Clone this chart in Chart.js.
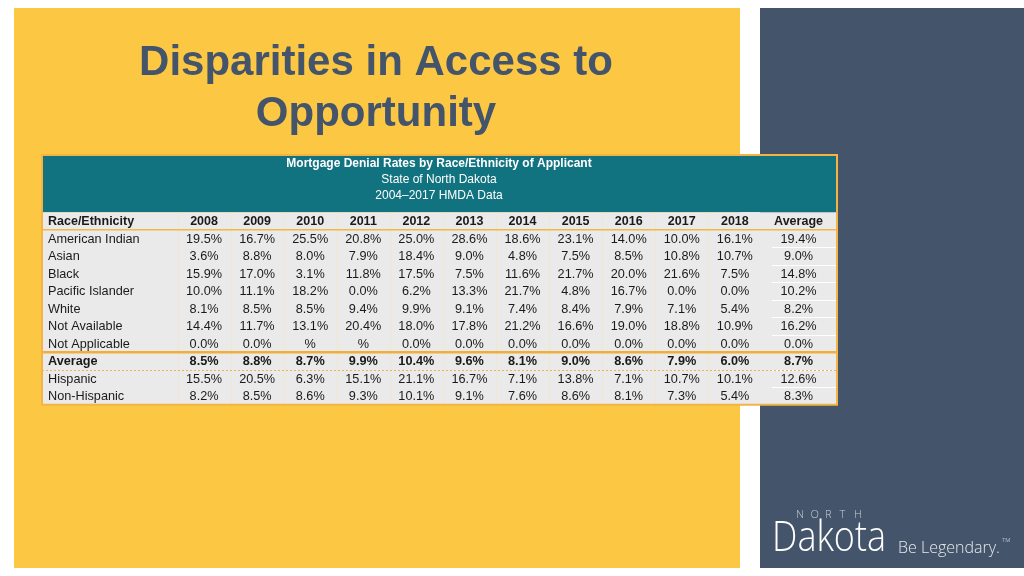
<!DOCTYPE html>
<html><head><meta charset="utf-8">
<script src="https://cdn.jsdelivr.net/npm/chart.js@4"></script>
<style>html,body{margin:0;padding:0;background:#fff;}canvas{display:block;}</style>
</head><body>
<canvas id="c" width="1024" height="576"></canvas>
<script>
const years = ['2008','2009','2010','2011','2012','2013','2014','2015','2016','2017','2018'];
const rowLabels = ['American Indian','Asian','Black','Pacific Islander','White','Not Available','Not Applicable','Average','Hispanic','Non-Hispanic'];
const americanIndian = [19.5,16.7,25.5,20.8,25.0,28.6,18.6,23.1,14.0,10.0,16.1];
const asian = [3.6,8.8,8.0,7.9,18.4,9.0,4.8,7.5,8.5,10.8,10.7];
const black = [15.9,17.0,3.1,11.8,17.5,7.5,11.6,21.7,20.0,21.6,7.5];
const pacificIslander = [10.0,11.1,18.2,0.0,6.2,13.3,21.7,4.8,16.7,0.0,0.0];
const white = [8.1,8.5,8.5,9.4,9.9,9.1,7.4,8.4,7.9,7.1,5.4];
const notAvailable = [14.4,11.7,13.1,20.4,18.0,17.8,21.2,16.6,19.0,18.8,10.9];
const notApplicable = [0.0,0.0,null,null,0.0,0.0,0.0,0.0,0.0,0.0,0.0];
const averageRow = [8.5,8.8,8.7,9.9,10.4,9.6,8.1,9.0,8.6,7.9,6.0];
const hispanic = [15.5,20.5,6.3,15.1,21.1,16.7,7.1,13.8,7.1,10.7,10.1];
const nonHispanic = [8.2,8.5,8.6,9.3,10.1,9.1,7.6,8.6,8.1,7.3,5.4];
const rowAverages = [19.4,9.0,14.8,10.2,8.2,16.2,0.0,8.7,12.6,8.3];
const headerLabel = 'Race/Ethnicity';
const averageLabel = 'Average';
const tableTitle = ['Mortgage Denial Rates by Race/Ethnicity of Applicant','State of North Dakota','2004\u20132017 HMDA Data'];
const slideTitle = ['Disparities in Access to','Opportunity'];

const rowValues = [americanIndian, asian, black, pacificIslander, white, notAvailable, notApplicable, averageRow, hispanic, nonHispanic];
const AVG_COL = years.length + 0.2;
const BOLD_ROW = rowLabels.indexOf('Average');
const FONT = '"Liberation Sans", Arial, sans-serif';

const datasets = rowValues.map((vals, r) => ({
  label: rowLabels[r],
  data: vals.map((v, i) => ({x: i, y: r, v: v})).concat([{x: AVG_COL, y: r, v: rowAverages[r]}]),
  pointRadius: 0, pointHoverRadius: 0, showLine: false
}));

const fmt = v => (v === null ? '' : v.toFixed(1)) + '%';

const tablePlugin = {
  id: 'tablePlugin',
  beforeDraw(chart) {
    const ctx = chart.ctx, xs = chart.scales.x, ys = chart.scales.y;
    ctx.save();
    ctx.fillStyle = '#ffffff'; ctx.fillRect(0,0,1024,576);
    ctx.fillStyle = '#FCC844'; ctx.fillRect(14,8,726,560);
    ctx.fillStyle = '#44546A'; ctx.fillRect(760,8,264,560);
    // slide title
    ctx.fillStyle = '#44546A';
    ctx.font = 'bold 42px ' + FONT;
    ctx.textAlign = 'center'; ctx.textBaseline = 'alphabetic';
    ctx.fillText(slideTitle[0], 376, 75);
    ctx.fillText(slideTitle[1], 376, 126);
    // table box
    const tl = 42, tr = 837, top = 155;
    const bodyTop = ys.getPixelForValue(-1.5), bodyBot = ys.getPixelForValue(rowLabels.length - 0.5);
    ctx.fillStyle = '#11737F'; ctx.fillRect(tl, top, tr - tl, bodyTop - top);
    ctx.fillStyle = '#EAEAEA'; ctx.fillRect(tl, bodyTop, tr - tl, bodyBot - bodyTop);
    // header text
    ctx.fillStyle = '#ffffff';
    ctx.textBaseline = 'middle';
    ctx.font = 'bold 12px ' + FONT; ctx.fillText(tableTitle[0], 439, 164);
    ctx.font = '12px ' + FONT; ctx.fillText(tableTitle[1], 439, 180);
    ctx.fillText(tableTitle[2], 439, 195.5);
    // faint column lines
    ctx.strokeStyle = 'rgba(250,225,160,0.35)'; ctx.lineWidth = 1;
    for (let i = 0; i < years.length; i++) {
      const x = Math.round(xs.getPixelForValue(i - 0.5)) + 0.5;
      ctx.beginPath(); ctx.moveTo(x, bodyTop); ctx.lineTo(x, bodyBot); ctx.stroke();
    }
    // white separators in average column
    ctx.strokeStyle = '#ffffff';
    const ax0 = xs.getPixelForValue(years.length - 0.3);
    for (let r = 0; r < rowLabels.length - 1; r++) {
      const y = Math.round(ys.getPixelForValue(r + 0.5)) + 0.5;
      ctx.beginPath(); ctx.moveTo(ax0, y); ctx.lineTo(tr, y); ctx.stroke();
    }
    // header underline
    ctx.strokeStyle = '#F4B54A'; ctx.lineWidth = 1.5;
    let y = ys.getPixelForValue(-0.5);
    ctx.beginPath(); ctx.moveTo(tl, y); ctx.lineTo(tr, y); ctx.stroke();
    ctx.lineWidth = 2.5; ctx.strokeStyle = '#F2AE3C';
    y = ys.getPixelForValue(BOLD_ROW - 0.5);
    ctx.beginPath(); ctx.moveTo(tl, y); ctx.lineTo(tr, y); ctx.stroke();
    ctx.lineWidth = 1; ctx.setLineDash([2,2]); ctx.strokeStyle = '#F2B050';
    y = Math.round(ys.getPixelForValue(BOLD_ROW + 0.5)) + 0.5;
    ctx.beginPath(); ctx.moveTo(tl, y); ctx.lineTo(tr, y); ctx.stroke();
    ctx.setLineDash([]);
    // outer border
    ctx.strokeStyle = '#F3B443'; ctx.lineWidth = 2;
    ctx.strokeRect(tl, top, tr - tl, bodyBot - top);
    // logo
    ctx.fillStyle = '#C9CED6'; ctx.font = '300 11px "Open Sans", sans-serif';
    ctx.textAlign = 'left'; ctx.textBaseline = 'alphabetic';
    'NORTH'.split('').forEach((ch, i) => ctx.fillText(ch, 796 + i * 14.5, 518));
    ctx.fillStyle = '#ffffff'; ctx.font = '300 42px "Open Sans", sans-serif';
    const dw = ctx.measureText('Dakota').width;
    ctx.save(); ctx.translate(772, 551); ctx.scale(114 / dw, 1);
    ctx.fillText('Dakota', 0, 0); ctx.restore();
    ctx.fillStyle = '#E6E9ED'; ctx.font = '300 16px "Open Sans", sans-serif';
    ctx.fillText('Be Legendary.', 898, 553);
    ctx.font = '300 6px "Open Sans", sans-serif';
    ctx.fillText('TM', 1002, 542);
    ctx.restore();
  },
  afterDatasetsDraw(chart) {
    const ctx = chart.ctx, xs = chart.scales.x, ys = chart.scales.y;
    ctx.save();
    ctx.fillStyle = '#1a1a1a';
    ctx.textBaseline = 'middle';
    ctx.font = 'bold 12.5px ' + FONT;
    const hy = ys.getPixelForValue(-1) + 0.5;
    ctx.textAlign = 'left'; ctx.fillText(headerLabel, 48, hy);
    ctx.textAlign = 'center';
    years.forEach((yr, i) => ctx.fillText(yr, xs.getPixelForValue(i), hy));
    ctx.fillText(averageLabel, xs.getPixelForValue(AVG_COL), hy);
    chart.data.datasets.forEach((ds, r) => {
      ctx.font = (r === BOLD_ROW ? 'bold ' : '') + '12.7px ' + FONT;
      const meta = chart.getDatasetMeta(r);
      ctx.textAlign = 'left';
      ctx.fillText(ds.label, 48, meta.data[0].y + 0.7);
      ctx.textAlign = 'center';
      meta.data.forEach((el, i) => ctx.fillText(fmt(ds.data[i].v), el.x, el.y + 0.7));
    });
    ctx.restore();
  }
};

new Chart(document.getElementById('c'), {
  type: 'scatter',
  data: { datasets },
  options: {
    responsive: false, animation: false, devicePixelRatio: 1,
    layout: { padding: { left: 177.5, right: 183, top: 212.25, bottom: 171.25 } },
    plugins: { legend: { display: false }, tooltip: { enabled: false } },
    scales: {
      x: { type: 'linear', display: false, min: -0.5, max: 12.0 },
      y: { type: 'linear', display: false, reverse: true, min: -1.5, max: rowLabels.length - 0.5 }
    }
  },
  plugins: [tablePlugin]
});
</script>
</body></html>
